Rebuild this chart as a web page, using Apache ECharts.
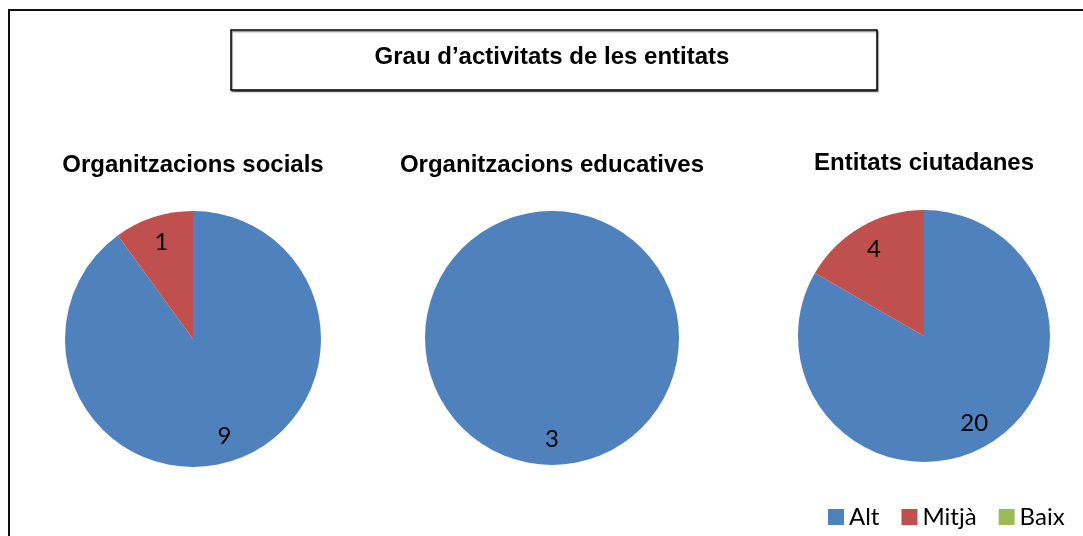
<!DOCTYPE html>
<html>
<head>
<meta charset="utf-8">
<script src="https://cdn.jsdelivr.net/npm/echarts@6/dist/echarts.min.js"></script>
<style>
html,body{margin:0;padding:0;background:#fff;}
#chart{width:1083px;height:536px;}
</style>
</head>
<body>
<div id="chart"></div>
<script>
var mainTitle = 'Grau d\u2019activitats de les entitats';
var categories = ['Alt', 'Mitj\u00e0', 'Baix'];
var pieTitles = ['Organitzacions socials', 'Organitzacions educatives', 'Entitats ciutadanes'];
var socials = [9, 1, 0];
var educatives = [3, 0, 0];
var ciutadanes = [20, 4, 0];
var seriesValues = [socials, educatives, ciutadanes];
var colors = ['#4F81BD', '#C0504D', '#9BBB59'];

var centers = [[193, 339], [552, 338], [924, 336]];
var radii = [128, 127, 126];
var titleY = [165.5, 165.5, 163.5];
var labelFactor = 1.52;

var chart = echarts.init(document.getElementById('chart'), null, {renderer: 'canvas'});

var series = seriesValues.map(function (vals, si) {
  return {
    type: 'pie',
    center: centers[si],
    radius: radii[si],
    startAngle: 90,
    clockwise: true,
    animation: false,
    silent: true,
    stillShowZeroSum: true,
    data: categories.map(function (c, i) { return {name: c, value: vals[i]}; }),
    itemStyle: {borderWidth: 0},
    label: {
      show: true,
      position: 'inside',
      formatter: function (p) { return p.value ? String(p.value) : ''; },
      fontFamily: 'Lato',
      fontSize: 24,
      color: '#000'
    },
    labelLine: {show: false},
    labelLayout: function (params) {
      var c = centers[si];
      var r = params.labelRect;
      var lx = r.x + r.width / 2;
      var ly = r.y + r.height / 2;
      return {dx: (lx - c[0]) * (labelFactor - 1), dy: (ly - c[1]) * (labelFactor - 1)};
    }
  };
});

var graphics = [
  {type: 'rect', shape: {x: 9, y: 10, width: 1100, height: 600}, style: {fill: 'none', stroke: '#111', lineWidth: 2}, silent: true},
  {type: 'rect', shape: {x: 231, y: 30, width: 646, height: 60}, style: {fill: '#fff', stroke: '#000', lineWidth: 1.5, shadowColor: 'rgba(0,0,0,0.45)', shadowOffsetX: 1, shadowOffsetY: 1.5, shadowBlur: 1}, silent: true},
  {type: 'text', x: 552, y: 57, style: {text: mainTitle, fontFamily: 'Liberation Sans, Arial', fontWeight: 'bold', fontSize: 24, fill: '#000', align: 'center', verticalAlign: 'middle'}, silent: true}
];
pieTitles.forEach(function (t, i) {
  graphics.push({type: 'text', x: centers[i][0], y: titleY[i], style: {text: t, fontFamily: 'Liberation Sans, Arial', fontWeight: 'bold', fontSize: 24, fill: '#000', align: 'center', verticalAlign: 'middle'}, silent: true});
});

chart.setOption({
  color: colors,
  animation: false,
  legend: {
    data: categories,
    left: 828,
    top: 505,
    padding: 0,
    icon: 'rect',
    itemWidth: 16,
    itemHeight: 16,
    itemGap: 22,
    selectedMode: false,
    textStyle: {fontFamily: 'Lato', fontSize: 24, color: '#000', lineHeight: 24}
  },
  graphic: graphics,
  series: series
});
</script>
</body>
</html>
